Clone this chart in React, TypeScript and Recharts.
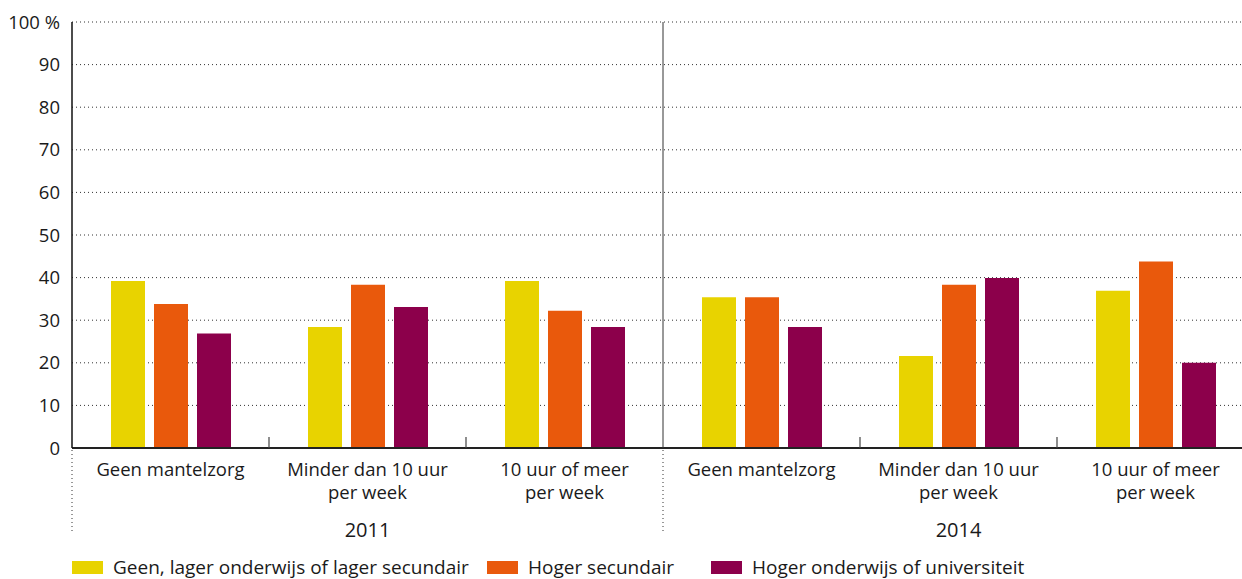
import React from 'react'
import { BarChart, Bar, XAxis, YAxis, CartesianGrid } from 'recharts'

if (typeof document !== 'undefined') document.body.style.margin = '0'

const years = ['2011', '2014']
const careLevels = ['Geen mantelzorg', 'Minder dan 10 uur\nper week', '10 uur of meer\nper week']
const seriesNames = ['Geen, lager onderwijs of lager secundair', 'Hoger secundair', 'Hoger onderwijs of universiteit']
const seriesColors = ['#E8D300', '#E9590C', '#8C004B']

const laag = [39.2, 28.4, 39.2, 35.4, 21.6, 36.9]
const midden = [33.8, 38.3, 32.2, 35.4, 38.3, 43.8]
const hoog = [26.9, 33.1, 28.4, 28.4, 39.9, 20.0]
const yTicks = [0, 10, 20, 30, 40, 50, 60, 70, 80, 90, 100]

const data = years.flatMap((year, yi) =>
  careLevels.map((label, ci) => {
    const i = yi * careLevels.length + ci
    return { id: `${year}-${ci}`, year, label, laag: laag[i], midden: midden[i], hoog: hoog[i] }
  })
)

const FONT = '"Open Sans", sans-serif'
const TOP = 22
const HEIGHT = 579
const X_AXIS_H = 131
const BOTTOM = HEIGHT - X_AXIS_H
const DOT_END = 533

function CategoryTick(props: any) {
  const { x, payload, index } = props
  const row = data[index]
  const left = x - (payload.offset ?? 0)
  const lines = row.label.split('\n')
  const perYear = careLevels.length
  const isYearStart = index % perYear === 0
  const isMiddle = index % perYear === 1
  return (
    <g>
      {isYearStart && index > 0 && (
        <line x1={left} x2={left} y1={TOP} y2={BOTTOM} stroke="#333" strokeWidth={1} />
      )}
      {isYearStart && (
        <line x1={left} x2={left} y1={BOTTOM + 2} y2={DOT_END} stroke="#333" strokeDasharray="1 3" />
      )}
      {!isYearStart && (
        <line x1={left} x2={left} y1={BOTTOM - 11} y2={BOTTOM} stroke="#444" strokeWidth={1.2} />
      )}
      <text x={x} y={BOTTOM + 28} textAnchor="middle" fontFamily={FONT} fontSize={18.5} fill="#1a1a1a">
        {lines.map((l: string, k: number) => (
          <tspan key={k} x={x} dy={k === 0 ? 0 : 23}>
            {l}
          </tspan>
        ))}
      </text>
      {isMiddle && (
        <text x={x} y={BOTTOM + 89} textAnchor="middle" fontFamily={FONT} fontSize={20} fill="#1a1a1a">
          {row.year}
        </text>
      )}
    </g>
  )
}

const legendWidths = [415, 224, 330]

function LegendBlock() {
  return (
    <div
      style={{
        position: 'absolute',
        left: 72,
        top: 558,
        display: 'flex',
        fontFamily: FONT,
        fontSize: 19,
        lineHeight: '19px',
        color: '#1a1a1a',
        whiteSpace: 'nowrap',
      }}
    >
      {seriesNames.map((name, i) => (
        <div key={name} style={{ display: 'flex', alignItems: 'center', width: legendWidths[i] }}>
          <span style={{ display: 'inline-block', width: 31, height: 13, background: seriesColors[i], marginRight: 10 }} />
          <span>{name}</span>
        </div>
      ))}
    </div>
  )
}

export default function App() {
  const keys = ['laag', 'midden', 'hoog']
  return (
    <div style={{ width: 1242, height: HEIGHT, overflow: 'hidden', position: 'relative', background: '#fff' }}>
      <BarChart
        width={1262}
        height={HEIGHT}
        data={data}
        margin={{ top: TOP, right: 8, left: 0, bottom: 0 }}
        barSize={34}
        barGap={9}
      >
        <CartesianGrid horizontal vertical={false} stroke="#333" strokeDasharray="1 3" />
        <XAxis
          dataKey="id"
          height={X_AXIS_H}
          tick={<CategoryTick />}
          tickLine={false}
          interval={0}
          axisLine={{ stroke: '#222', strokeWidth: 2 }}
        />
        <YAxis
          domain={[0, 100]}
          ticks={yTicks}
          width={72}
          tickSize={0}
          tickMargin={12}
          tickLine={false}
          axisLine={{ stroke: '#111', strokeWidth: 1.5 }}
          tickFormatter={(v: number) => (v === 100 ? '100 %' : String(v))}
          tick={{ fontFamily: FONT, fontSize: 18.5, fill: '#1a1a1a' }}
          interval={0}
        />
        {keys.map((k, i) => (
          <Bar key={k} dataKey={k} name={seriesNames[i]} fill={seriesColors[i]} isAnimationActive={false} />
        ))}
      </BarChart>
      <LegendBlock />
    </div>
  )
}
